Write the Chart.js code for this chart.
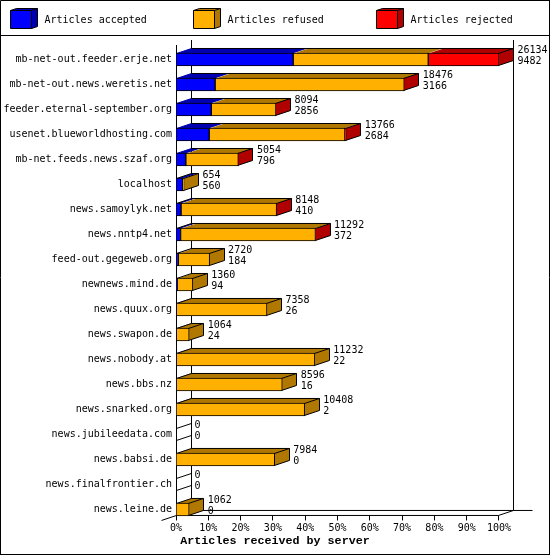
<!DOCTYPE html>
<html>
<head>
<meta charset="utf-8">
<style>html,body{margin:0;padding:0;background:#fff}canvas{display:block}</style>
<script src="https://cdn.jsdelivr.net/npm/chart.js@4/dist/chart.umd.js"></script>
</head>
<body>
<div style="width:550px;height:555px"><canvas id="c" width="550" height="555"></canvas></div>
<script>
const servers = ["mb-net-out.feeder.erje.net","mb-net-out.news.weretis.net","feeder.eternal-september.org","usenet.blueworldhosting.com","mb-net.feeds.news.szaf.org","localhost","news.samoylyk.net","news.nntp4.net","feed-out.gegeweb.org","newnews.mind.de","news.quux.org","news.swapon.de","news.nobody.at","news.bbs.nz","news.snarked.org","news.jubileedata.com","news.babsi.de","news.finalfrontier.ch","news.leine.de"];
const received = [26134,18476,8094,13766,5054,654,8148,11292,2720,1360,7358,1064,11232,8596,10408,0,7984,0,1062];
const accepted = [9482,3166,2856,2684,796,560,410,372,184,94,26,24,22,16,2,0,0,0,0];
const refused  = [10928,15300,5228,10982,4248,94,7728,10910,2536,1266,7332,1040,11210,8580,10406,0,7984,0,1062];
const rejected = [5724,10,10,100,10,0,10,10,0,0,0,0,0,0,0,0,0,0,0];
const pctTicks = [0,10,20,30,40,50,60,70,80,90,100];
const seriesNames = ["Articles accepted","Articles refused","Articles rejected"];
const frontColors = ["#0000ff","#ffb000","#ff0000"];
const shadeColors = ["#0000b0","#b07800","#b00000"];
const maxReceived = 26134;
const share = v => v / maxReceived * 100;
const MONO = '"DejaVu Sans Mono", monospace';
const DX = 15, DY = -5;

function line(ctx, x0, y0, x1, y1) { ctx.beginPath(); ctx.moveTo(x0, y0); ctx.lineTo(x1, y1); ctx.stroke(); }
function poly(ctx, pts, fill) {
  ctx.beginPath(); pts.forEach((p, i) => i ? ctx.lineTo(p[0], p[1]) : ctx.moveTo(p[0], p[1])); ctx.closePath();
  if (fill) { ctx.fillStyle = fill; ctx.fill(); }
}

const frame3d = {
  id: 'frame3d',
  beforeDraw(chart) {
    chart.titleBlock.left = 0;
    chart.titleBlock.right = 550;
  },
  beforeDatasetsDraw(chart) {
    const ctx = chart.ctx, a = chart.chartArea, xs = chart.scales.x;
    const L = Math.floor(a.left) + .5, R = Math.floor(a.right) - .5, front = a.bottom - 6.5;
    ctx.save();
    ctx.strokeStyle = '#000'; ctx.lineWidth = 1;
    line(ctx, .5, .5, 549.5, .5); line(ctx, .5, .5, .5, 554.5); line(ctx, 549.5, 0, 549.5, 555); line(ctx, 0, 554.5, 550, 554.5);
    line(ctx, 0, 35.5, 550, 35.5);
    line(ctx, L, a.top - 2, L, front);
    line(ctx, L + DX, a.top - 7, L + DX, front + DY);
    line(ctx, R + DX, a.top - 7, R + DX, front + DY);
    line(ctx, L + DX, front + DY, R + DX + 19, front + DY);
    line(ctx, L, front, R, front);
    line(ctx, L, front, L - DX, front - DY);
    line(ctx, R, front, R + DX, front + DY);
    xs.ticks.forEach((t, i) => {
      const x = Math.floor(xs.getPixelForTick(i)) + .5;
      line(ctx, Math.min(x, R), front, Math.min(x, R), front + 5);
    });
    const metas = [0, 1, 2].map(i => chart.getDatasetMeta(i));
    servers.forEach((name, r) => {
      const first = metas[0].data[r], top = first.y - 6.5 + .5, bot = first.y + 6.5 - .5;
      const start = Math.round(first.base) + .5;
      if (received[r] === 0) {
        line(ctx, start, top, start + DX, top + DY);
        line(ctx, start, bot, start + DX, bot + DY);
        return;
      }
      let end = start, lastSeg = 0;
      [accepted, refused, rejected].forEach((arr, s) => {
        if (arr[r] <= 0) return;
        const el = metas[s].data[r];
        const x0 = Math.round(el.base) + .5, x1 = Math.round(el.x) - .5;
        poly(ctx, [[x0, top], [x0 + DX, top + DY], [x1 + DX, top + DY], [x1, top]], shadeColors[s]);
        end = x1; lastSeg = s;
      });
      poly(ctx, [[end, top], [end + DX, top + DY], [end + DX, bot + DY], [end, bot]], shadeColors[lastSeg]);
      ctx.strokeStyle = share(accepted[r]) >= 3 ? shadeColors[0] : '#000';
      line(ctx, start, top, start + DX, top + DY);
      ctx.strokeStyle = '#000';
      ctx.beginPath();
      ctx.moveTo(start + DX, top + DY); ctx.lineTo(end + DX, top + DY); ctx.lineTo(end + DX, bot + DY); ctx.lineTo(end, bot);
      ctx.moveTo(end, top); ctx.lineTo(end + DX, top + DY);
      ctx.stroke();
    });
    ctx.restore();
  },
  afterDatasetsDraw(chart) {
    const ctx = chart.ctx, metas = chart.getDatasetMeta(0);
    ctx.save();
    ctx.fillStyle = '#000'; ctx.font = '10px ' + MONO; ctx.textBaseline = 'middle'; ctx.textAlign = 'left';
    servers.forEach((name, r) => {
      const el = metas.data[r];
      const x = chart.scales.x.getPixelForValue(share(received[r])) + DX + 3.5;
      ctx.fillText(String(received[r]), x, el.y - 9);
      ctx.fillText(String(accepted[r]), x, el.y + 2);
    });
    const boxX = [10, 193, 376], textX = [44.5, 227.5, 410.5];
    seriesNames.forEach((label, s) => {
      const x0 = boxX[s] + .5, x1 = x0 + 21, y0 = 10.5, y1 = 28.5, dx = 6, dy = -2;
      poly(ctx, [[x0, y0], [x1, y0], [x1, y1], [x0, y1]], frontColors[s]);
      poly(ctx, [[x0, y0], [x0 + dx, y0 + dy], [x1 + dx, y0 + dy], [x1, y0]], shadeColors[s]);
      poly(ctx, [[x1, y0], [x1 + dx, y0 + dy], [x1 + dx, y1 + dy], [x1, y1]], shadeColors[s]);
      ctx.strokeStyle = '#000';
      ctx.beginPath();
      ctx.rect(x0, y0, 21, 18);
      ctx.moveTo(x0, y0); ctx.lineTo(x0 + dx, y0 + dy); ctx.lineTo(x1 + dx, y0 + dy); ctx.lineTo(x1 + dx, y1 + dy); ctx.lineTo(x1, y1);
      ctx.moveTo(x1, y0); ctx.lineTo(x1 + dx, y0 + dy);
      ctx.stroke();
      ctx.fillStyle = '#000';
      ctx.fillText(label, textX[s], 20);
    });
    ctx.restore();
  }
};

const series = [accepted, refused, rejected];
new Chart(document.getElementById('c'), {
  type: 'bar',
  data: {
    labels: servers,
    datasets: series.map((arr, s) => ({
      label: seriesNames[s],
      data: arr.map(share),
      backgroundColor: c => c.raw > 0 ? frontColors[s] : 'rgba(0,0,0,0)',
      borderColor: c => c.raw > 0 ? '#000' : 'rgba(0,0,0,0)',
      borderWidth: c => c.raw > 0 ? 1 : 0,
      borderSkipped: false,
      barThickness: 13
    }))
  },
  options: {
    indexAxis: 'y',
    responsive: false,
    animation: false,
    devicePixelRatio: 1,
    layout: { padding: { top: 47, right: 51, left: 0, bottom: 0 } },
    plugins: {
      legend: { display: false },
      tooltip: { enabled: false },
      title: {
        display: true, position: 'bottom', align: 'center', color: '#000',
        text: 'Articles received by server',
        font: { family: '"Liberation Mono", monospace', size: 11.7, weight: 'bold', lineHeight: 1.2 },
        padding: { top: 0, bottom: 7 }
      }
    },
    scales: {
      x: {
        type: 'linear', min: 0, max: 100, stacked: true,
        afterFit: s => { s.height = 12; },
        grid: { display: false, drawTicks: false },
        border: { display: false },
        afterBuildTicks: s => { s.ticks = pctTicks.map(v => ({ value: v })); },
        ticks: { color: '#000', font: { family: MONO, size: 10 }, padding: 0, maxRotation: 0, autoSkip: false, callback: v => v + '%' }
      },
      y: {
        type: 'category', stacked: true,
        afterFit: s => { s.width = 176; },
        grid: { display: false, drawTicks: false },
        border: { display: false },
        ticks: { color: '#000', font: { family: MONO, size: 10 }, padding: 4, autoSkip: false }
      }
    }
  },
  plugins: [frame3d]
});
</script>
</body>
</html>
